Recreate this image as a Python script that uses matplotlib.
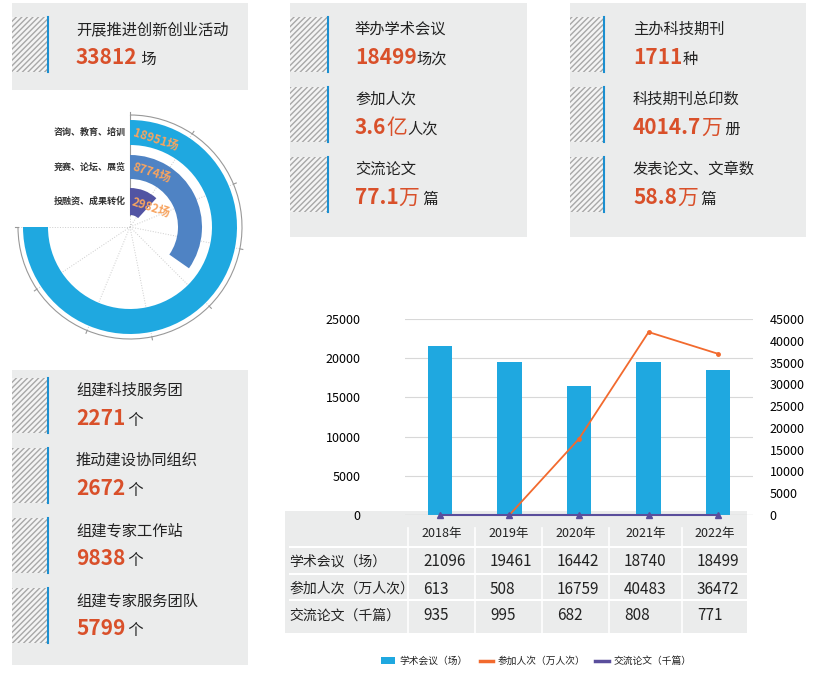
import matplotlib.pyplot as plt
import numpy as np
from matplotlib.patches import Rectangle, Wedge, Arc

plt.rcParams['font.family'] = 'Noto Sans CJK SC'

# ---- data ----
years = ['2018年', '2019年', '2020年', '2021年', '2022年']
meetings = [21096, 19461, 16442, 18740, 18499]
attendees = [613, 508, 16759, 40483, 36472]
papers = [935, 995, 682, 808, 771]
# heights as drawn in the chart (differ slightly from the table)
bar_heights = [21500, 19500, 16400, 19500, 18500]
line_people = [None, 0, 17500, 42000, 37000]
line_papers = [0, 0, 0, 0, 0]
row_names = ['学术会议（场）', '参加人次（万人次）', '交流论文（千篇）']

radial_labels = ['咨询、教育、培训', '竞赛、论坛、展览', '投融资、成果转化']
radial_values = [18951, 8774, 2982]
radial_colors = ['#1fa8e0', '#4f83c4', '#5254a3']

panel_tl = [('开展推进创新创业活动', '33812', '', ' 场')]
panel_tm = [('举办学术会议', '18499', '', '场次'),
            ('参加人次', '3.6', '亿', '人次'),
            ('交流论文', '77.1', '万', ' 篇')]
panel_tr = [('主办科技期刊', '1711', '', '种'),
            ('科技期刊总印数', '4014.7', '万', ' 册'),
            ('发表论文、文章数', '58.8', '万', ' 篇')]
panel_bl = [('组建科技服务团', '2271', '', ' 个'),
            ('推动建设协同组织', '2672', '', ' 个'),
            ('组建专家工作站', '9838', '', ' 个'),
            ('组建专家服务团队', '5799', '', ' 个')]

RED = '#d9502a'
GRAY_BG = '#ebecec'

fig = plt.figure(figsize=(8.14, 6.76), dpi=100)
ov = fig.add_axes([0, 0, 1, 1], zorder=0)
ov.set_xlim(0, 814)
ov.set_ylim(676, 0)
ov.axis('off')
fig.canvas.draw()
rend = fig.canvas.get_renderer()


def seq(x, y, parts):
    for s, kw in parts:
        t = ov.text(x, y, s, va='baseline', **kw)
        x += t.get_window_extent(rend).width


def panel(x0, y0, w, h, items, hx0, hw, step, first, tx):
    ov.add_patch(Rectangle((x0, y0), w, h, fc=GRAY_BG, ec='none'))
    for i, (title, num, runit, unit) in enumerate(items):
        yb = first + i * step
        ov.add_patch(Rectangle((hx0, yb), hw, 55, fc='#f4f4f4', ec='#a8a8a8',
                               hatch='//////', lw=0))
        ov.plot([hx0 + hw, hx0 + hw], [yb, yb + 55], color='#1b8fd0', lw=1.5)
        ov.text(tx, yb + 17, title, fontsize=11, color='#222', va='baseline')
        parts = [(num, dict(fontsize=15, color=RED, fontweight='bold'))]
        if runit:
            parts.append((runit, dict(fontsize=15, color=RED)))
        parts.append((unit, dict(fontsize=11, color='#222')))
        seq(tx, yb + 47, parts)


panel(12, 3, 236, 87, panel_tl, 12, 36, 70, 17, 76)
panel(290, 3, 237, 234, panel_tm, 290, 38, 70, 17, 355)
panel(570, 3, 236, 234, panel_tr, 570, 34, 70, 17, 633)
panel(12, 370, 236, 295, panel_bl, 12, 36, 70, 378, 76)

# ---- radial bar ----
cx, cy = 130, 227
rmax = max(radial_values)
radii = [(82, 107), (48, 72), (12, 39)]
for ang in np.arange(0, 271, 33.75):
    th = np.deg2rad(270 + ang)
    ov.plot([cx, cx + 112 * np.cos(th)], [cy, cy + 112 * np.sin(th)],
            color='#cccccc', lw=0.7, ls=':', zorder=1)
    ov.plot([cx + 112 * np.cos(th), cx + 115 * np.cos(th)],
            [cy + 112 * np.sin(th), cy + 115 * np.sin(th)], color='#999', lw=0.8)
ov.add_patch(Arc((cx, cy), 224, 224, theta1=270, theta2=540, color='#999', lw=0.8))
ov.plot([cx, cx], [cy - 12, cy - 112], color='#999', lw=0.8)
for (r0, r1), v, c, lab in zip(radii, radial_values, radial_colors, radial_labels):
    ang = 270 * v / rmax
    ov.add_patch(Wedge((cx, cy), r1, 270, 270 + ang, width=r1 - r0, fc=c,
                       ec='none', zorder=2))
    rm = (r0 + r1) / 2
    ov.text(cx - 4, cy - rm, lab, fontsize=6.5, ha='right', va='center',
            color='#333', fontweight='bold')
    th = np.deg2rad(270 + 1)
    ov.text(cx + rm * np.cos(th) + 2, cy + rm * np.sin(th), f'{v}场',
            fontsize=8.5, color='#f7a460', ha='left', va='center',
            rotation=-18, rotation_mode='anchor', zorder=3, fontweight='bold')

# ---- table ----
ov.add_patch(Rectangle((285, 511), 462, 122, fc=GRAY_BG, ec='none'))
col_x = [408, 475, 542, 609, 682, 747]
for x in col_x[:-1]:
    ov.plot([x, x], [528, 633], color='white', lw=1.2)
for y in [547, 574, 600]:
    ov.plot([290, 747], [y, y], color='white', lw=1.5)
row_y = [561, 589, 616]
for i, yr in enumerate(years):
    ov.text((col_x[i] + col_x[i + 1]) / 2, 533, yr, fontsize=9, ha='center',
            va='center', color='#222')
for name, vals, y in zip(row_names, [meetings, attendees, papers], row_y):
    ov.text(289, y, name, fontsize=10, va='center', color='#222')
    for i, v in enumerate(vals):
        ov.text(col_x[i] + 15, y, str(v), fontsize=11, va='center', color='#222')

# ---- bar / line chart ----
ax = fig.add_axes([405 / 814, (676 - 515) / 676, 348 / 814, 196 / 676], zorder=2)
ax.patch.set_alpha(0)
x = np.arange(len(years))
ax.bar(x, bar_heights, width=0.35, color='#1fa8e0', zorder=2)
ax.set_ylim(0, 25000)
ax.set_xlim(-0.5, 4.5)
ax.set_yticks(range(0, 25001, 5000))
ax.grid(axis='y', color='#d8d8d8', lw=0.8, zorder=0)
ax.set_xticks([])
for s in ax.spines.values():
    s.set_visible(False)
ax.tick_params(axis='y', length=0, labelsize=9, pad=32)
ax2 = ax.twinx()
ax2.set_ylim(0, 45000)
ax2.set_yticks(range(0, 45001, 5000))
ax2.tick_params(axis='y', length=0, labelsize=9, pad=12)
for s in ax2.spines.values():
    s.set_visible(False)
lp = np.array([np.nan if v is None else v for v in line_people], dtype=float)
ax2.plot(x, lp, color='#f26a2e', lw=1.3, marker='o', ms=2.5)
ax2.plot(x, line_papers, color='#5a4e9c', lw=1.5, marker='^', ms=4, clip_on=False)
ax2.axhline(0, color='#bbbbbb', lw=0.8, zorder=0)

# legend
ov.add_patch(Rectangle((381, 657), 14, 7, fc='#1fa8e0'))
ov.text(399, 661, '学术会议（场）', fontsize=7, va='center', color='#222')
ov.plot([480, 493], [661, 661], color='#f26a2e', lw=2.5)
ov.text(498, 661, '参加人次（万人次）', fontsize=7, va='center', color='#222')
ov.plot([595, 609], [661, 661], color='#5a4e9c', lw=2.5)
ov.text(614, 661, '交流论文（千篇）', fontsize=7, va='center', color='#222')

fig.savefig('out.png', dpi=100)
